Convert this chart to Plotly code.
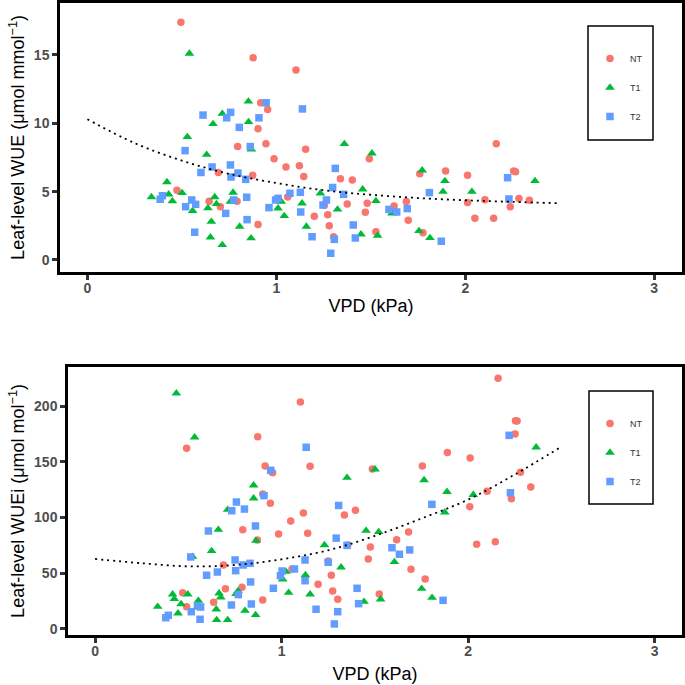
import plotly.graph_objects as go

# ---------------- data: top panel (Leaf-level WUE) ----------------
nt_vpd_top = [0.474, 0.495, 0.644, 0.693, 0.704, 0.792, 0.795, 0.875, 0.877, 0.903, 0.903, 0.917, 0.945, 0.954,
              0.988, 1.051, 1.06, 1.104, 1.122, 1.145, 1.155, 1.201, 1.254, 1.272, 1.28, 1.303, 1.339, 1.375,
              1.402, 1.471, 1.481, 1.492, 1.527, 1.623, 1.688, 1.698, 1.759, 1.776, 1.896, 2.012, 2.012, 2.051,
              2.104, 2.15, 2.164, 2.238, 2.256, 2.266, 2.284, 2.339]
nt_wue_top = [5.1, 17.4, 4.3, 6.4, 3.9, 4.3, 8.3, 6.2, 14.8, 9.6, 2.6, 11.5, 8.5, 11.0,
              7.4, 6.8, 4.6, 13.9, 6.9, 6.1, 8.1, 3.2, 4.0, 3.3, 2.5, 1.7, 5.95, 4.1,
              5.85, 3.5, 4.15, 7.4, 2.07, 3.95, 4.27, 2.9, 6.3, 2.0, 6.5, 6.2, 4.2, 3.05,
              4.4, 3.05, 8.5, 3.9, 6.5, 6.45, 4.5, 4.37]

t1_vpd_top = [0.339, 0.421, 0.43, 0.45, 0.501, 0.529, 0.54, 0.557, 0.631, 0.638, 0.651, 0.656, 0.665, 0.674,
              0.683, 0.714, 0.714, 0.757, 0.771, 0.806, 0.852, 0.853, 0.866, 0.868, 1.009, 1.026, 1.042, 1.136,
              1.159, 1.233, 1.324, 1.36, 1.448, 1.457, 1.506, 1.527, 1.536, 1.612, 1.755, 1.772, 1.813, 1.882,
              1.892, 2.035, 2.369]
t1_wue_top = [4.6, 5.7, 4.8, 4.3, 4.9, 9.0, 15.1, 3.6, 7.7, 3.8, 1.66, 2.8, 9.95, 4.6,
              4.1, 10.7, 1.1, 4.27, 4.93, 2.44, 11.6, 10.1, 1.59, 8.1, 3.78, 4.27, 3.22, 4.15,
              2.44, 4.88, 3.7, 8.49, 1.88, 5.17, 7.8, 4.32, 1.78, 3.41, 2.12, 6.56, 1.61, 5.0,
              5.78, 5.0, 5.78]

t2_vpd_top = [0.385, 0.397, 0.517, 0.52, 0.552, 0.568, 0.573, 0.601, 0.612, 0.66, 0.732, 0.737, 0.757, 0.758,
              0.76, 0.774, 0.797, 0.804, 0.838, 0.843, 0.845, 0.862, 0.908, 0.946, 0.961, 0.996, 1.009, 1.072,
              1.127, 1.129, 1.138, 1.189, 1.247, 1.265, 1.288, 1.298, 1.307, 1.312, 1.356, 1.407, 1.418, 1.596,
              1.637, 1.693, 1.81, 1.873, 2.224, 2.231]
t2_wue_top = [4.44, 4.7, 8.0, 3.9, 4.39, 2.03, 4.07, 6.4, 10.6, 6.8, 3.41, 10.4, 6.95, 10.8,
              6.07, 4.39, 6.36, 9.7, 5.9, 4.59, 2.95, 8.3, 10.4, 11.5, 3.83, 4.39, 4.51, 4.88,
              4.95, 3.51, 11.05, 1.7, 4.02, 4.39, 0.49, 5.3, 1.51, 6.7, 4.8, 2.56, 1.61, 3.7,
              3.51, 3.76, 4.93, 1.37, 6.02, 4.46]

fit_vpd = [0.0, 0.25, 0.5, 0.75, 1.0, 1.25, 1.5, 1.75, 2.0, 2.25, 2.5]
fit_wue_top = [10.3, 8.55, 7.27, 6.3, 5.63, 5.1, 4.77, 4.53, 4.37, 4.25, 4.15]

# ---------------- data: bottom panel (Leaf-level WUEi) ----------------
nt_vpd_bot = [0.47, 0.491, 0.491, 0.636, 0.688, 0.699, 0.788, 0.792, 0.87, 0.872, 0.899, 0.899, 0.912, 0.94,
              0.952, 0.984, 1.049, 1.056, 1.101, 1.117, 1.14, 1.153, 1.196, 1.25, 1.267, 1.274, 1.301, 1.337,
              1.355, 1.396, 1.465, 1.476, 1.487, 1.524, 1.617, 1.681, 1.694, 1.755, 1.77, 1.889, 2.009, 2.011,
              2.046, 2.102, 2.146, 2.161, 2.232, 2.252, 2.254, 2.263, 2.281, 2.336]
nt_wuei_bot = [32.6, 162.1, 20.0, 23.9, 57.4, 36.1, 37.4, 89.1, 79.8, 172.5, 121.0, 26.0, 146.2, 112.7,
               140.2, 85.2, 96.9, 53.8, 203.5, 104.0, 85.8, 145.9, 40.1, 61.0, 48.2, 34.1, 26.6, 102.2,
               75.3, 106.5, 62.8, 73.5, 143.5, 31.4, 80.1, 87.0, 53.5, 146.2, 44.8, 158.3, 109.7, 153.4,
               76.0, 123.5, 78.3, 224.8, 116.9, 174.9, 186.8, 186.5, 140.5, 127.4]

t1_vpd_bot = [0.336, 0.416, 0.425, 0.436, 0.445, 0.461, 0.497, 0.523, 0.534, 0.554, 0.625, 0.65, 0.652, 0.661,
              0.665, 0.674, 0.711, 0.711, 0.756, 0.767, 0.804, 0.85, 0.85, 0.861, 0.863, 1.006, 1.024, 1.038,
              1.128, 1.153, 1.23, 1.319, 1.351, 1.442, 1.453, 1.501, 1.521, 1.531, 1.605, 1.751, 1.764, 1.807,
              1.875, 1.887, 2.028, 2.365]
t1_wuei_bot = [20.0, 31.1, 26.9, 211.4, 14.1, 22.4, 31.1, 64.8, 171.9, 25.4, 70.0, 17.7, 8.1, 89.1,
               32.0, 28.4, 107.0, 8.1, 31.4, 34.1, 16.4, 128.9, 117.2, 12.6, 79.2, 44.6, 51.4, 32.6,
               48.4, 31.1, 75.3, 55.3, 135.7, 24.5, 88.2, 143.2, 87.0, 26.6, 60.1, 36.1, 133.6, 28.1,
               104.7, 123.1, 120.4, 163.0]

t2_vpd_bot = [0.379, 0.393, 0.513, 0.516, 0.549, 0.563, 0.566, 0.598, 0.608, 0.656, 0.731, 0.733, 0.751, 0.754,
              0.758, 0.768, 0.794, 0.801, 0.831, 0.834, 0.838, 0.86, 0.906, 0.942, 0.956, 0.994, 1.003, 1.069,
              1.126, 1.126, 1.132, 1.185, 1.25, 1.283, 1.293, 1.301, 1.306, 1.351, 1.405, 1.413, 1.592, 1.632,
              1.687, 1.806, 1.866, 2.22, 2.227]
t2_wuei_bot = [10.1, 12.3, 64.6, 15.5, 20.6, 8.7, 19.7, 48.2, 87.9, 51.1, 21.5, 106.1, 61.9, 52.3,
               113.9, 30.8, 57.4, 107.6, 58.9, 42.2, 22.4, 92.4, 119.6, 142.3, 36.5, 47.8, 52.0, 53.8,
               61.9, 43.3, 163.0, 17.7, 59.8, 4.5, 81.5, 15.5, 110.8, 75.0, 36.5, 22.7, 72.9, 67.0,
               70.9, 111.8, 25.7, 173.7, 122.2]

fit_wuei_bot = [62.8, 59.0, 56.2, 57.4, 62.5, 70.6, 83.5, 99.1, 116.0, 138.5, 163.5]

groups = ["NT", "T1", "T2"]
x_ticks = [0, 1, 2, 3]
y_ticks_top = [0, 5, 10, 15]
y_ticks_bot = [0, 50, 100, 150, 200]

# ---------------- styling ----------------
colors = {"NT": "#F8766D", "T1": "#00BA38", "T2": "#619CFF"}
symbols = {"NT": "circle", "T1": "triangle-up", "T2": "square"}
sizes = {"NT": 7.5, "T1": 8.5, "T2": 7.5}
W = H = 685
dotline = dict(color="black", dash="2px,4px", width=1.8, shape="spline")

fig = go.Figure()

top_data = {"NT": (nt_vpd_top, nt_wue_top), "T1": (t1_vpd_top, t1_wue_top), "T2": (t2_vpd_top, t2_wue_top)}
bot_data = {"NT": (nt_vpd_bot, nt_wuei_bot), "T1": (t1_vpd_bot, t1_wuei_bot), "T2": (t2_vpd_bot, t2_wuei_bot)}

for g in groups:
    x, y = top_data[g]
    fig.add_trace(go.Scatter(x=x, y=y, mode="markers", name=g, legend="legend", legendgroup="a" + g,
                             marker=dict(color=colors[g], symbol=symbols[g], size=sizes[g], line=dict(width=0)),
                             xaxis="x", yaxis="y"))
fig.add_trace(go.Scatter(x=fit_vpd, y=fit_wue_top, mode="lines", showlegend=False, line=dotline,
                         xaxis="x", yaxis="y"))

for g in groups:
    x, y = bot_data[g]
    fig.add_trace(go.Scatter(x=x, y=y, mode="markers", name=g, legend="legend2", legendgroup="b" + g,
                             marker=dict(color=colors[g], symbol=symbols[g], size=sizes[g], line=dict(width=0)),
                             xaxis="x2", yaxis="y2"))
fig.add_trace(go.Scatter(x=fit_vpd, y=fit_wuei_bot, mode="lines", showlegend=False, line=dotline,
                         xaxis="x2", yaxis="y2"))

tickfont = dict(family="Liberation Sans, Arial, sans-serif", size=14, color="#4D4D4D", weight="bold")
titlefont = dict(family="Liberation Sans, Arial, sans-serif", size=18, color="black")

def xax(domain, anchor, standoff):
    return dict(domain=domain, anchor=anchor, range=[-0.145, 3.147], tickvals=x_ticks,
                ticktext=[str(v) for v in x_ticks], showgrid=False, zeroline=False, automargin=False,
                showline=True, linecolor="black", linewidth=2.5, mirror=True,
                ticks="outside", ticklen=5, tickwidth=3, tickcolor="#333333", ticklabelstandoff=-4,
                tickfont=tickfont, title=dict(text="VPD (kPa)", font=titlefont, standoff=standoff))

def yax(domain, anchor, rng, ticks, title):
    return dict(domain=domain, anchor=anchor, range=rng, tickvals=ticks,
                ticktext=[str(v) for v in ticks], showgrid=False, zeroline=False, automargin=False,
                showline=True, linecolor="black", linewidth=2.5, mirror=True,
                ticks="outside", ticklen=5, tickwidth=3, tickcolor="#333333",
                tickfont=tickfont, title=dict(text=title, font=titlefont, standoff=5))

legfont = dict(family="Liberation Sans, Arial, sans-serif", size=9, color="#333333")

fig.update_layout(
    width=W, height=H, margin=dict(l=0, r=0, t=0, b=0, autoexpand=False),
    paper_bgcolor="white", plot_bgcolor="white",
    xaxis=xax([60 / W, 682 / W], "y", 5),
    yaxis=yax([1 - 272 / H, 1 - 3 / H], "x", [-0.88, 18.8], y_ticks_top,
              "Leaf-level WUE (μmol mmol<sup>−1</sup>)"),
    xaxis2=xax([68 / W, 682 / W], "y2", 10),
    yaxis2=yax([1 - 635 / H, 1 - 367 / H], "x2", [-5.4, 235], y_ticks_bot,
               "Leaf-level WUEi (μmol mol<sup>−1</sup>)"),
    legend=dict(x=590 / W, y=1 - 44 / H, xanchor="left", yanchor="top", font=legfont,
                bgcolor="rgba(0,0,0,0)", borderwidth=0, tracegroupgap=10),
    legend2=dict(x=590 / W, y=1 - 409 / H, xanchor="left", yanchor="top", font=legfont,
                 bgcolor="rgba(0,0,0,0)", borderwidth=0, tracegroupgap=10),
    shapes=[
        dict(type="rect", xref="paper", yref="paper", x0=588 / W, x1=653 / W, y0=1 - 140 / H, y1=1 - 26 / H,
             line=dict(color="black", width=1.5), fillcolor="rgba(0,0,0,0)"),
        dict(type="rect", xref="paper", yref="paper", x0=589 / W, x1=653 / W, y0=1 - 504 / H, y1=1 - 391 / H,
             line=dict(color="black", width=1.5), fillcolor="rgba(0,0,0,0)"),
    ],
)

fig.write_html("out.html", config={"displayModeBar": False},
               post_script="document.body.style.margin='0';document.body.style.overflow='hidden';")
